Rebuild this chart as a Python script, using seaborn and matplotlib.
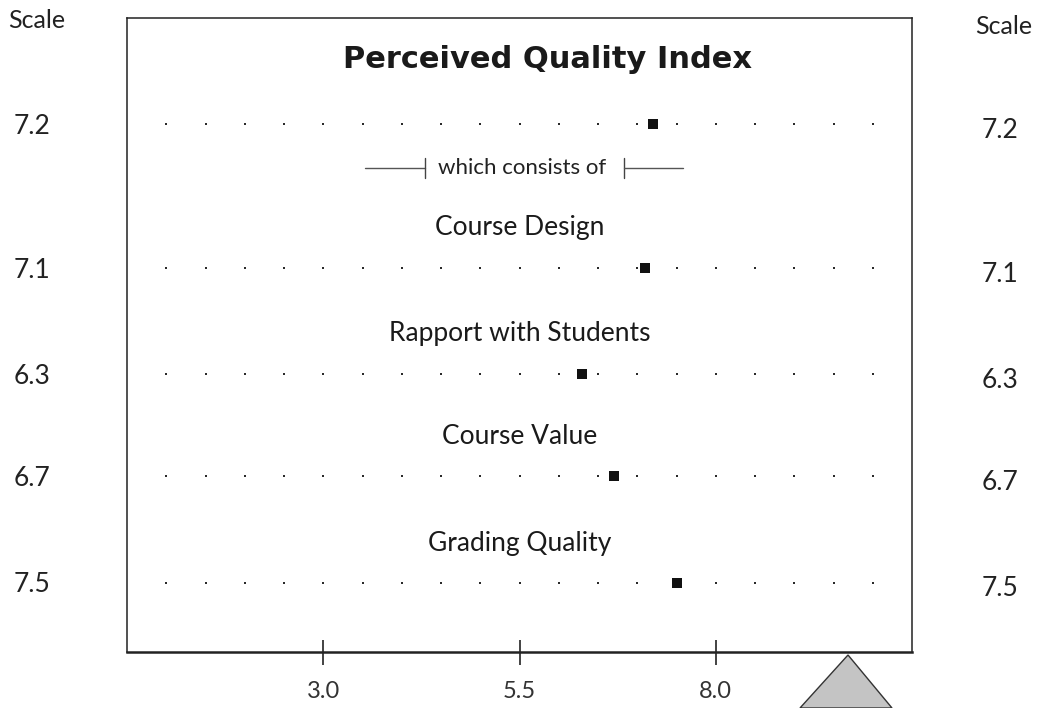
import numpy as np
import pandas as pd
import seaborn as sns
import matplotlib.pyplot as plt
from matplotlib import transforms
from matplotlib.patches import Polygon

# data
rows = ["Perceived Quality Index", "Course Design", "Rapport with Students",
        "Course Value", "Grading Quality"]
scores = [7.2, 7.1, 6.3, 6.7, 7.5]
score_labels = ["7.2", "7.1", "6.3", "6.7", "7.5"]
grid_pts = [1.0, 1.5, 2.0, 2.5, 3.0, 3.5, 4.0, 4.5, 5.0, 5.5,
            6.0, 6.5, 7.0, 7.5, 8.0, 8.5, 9.0, 9.5, 10.0]
tick_vals = [3.0, 5.5, 8.0]
tick_labels = ["3.0", "5.5", "8.0"]

# layout: row heights measured from the top of the frame (px)
row_y = [106, 250, 356, 458, 565]
title_y = [42, 210, 316, 419, 526]

sns.set_theme(style="white")
plt.rcParams['font.family'] = ['Lato', 'DejaVu Sans']

fig = plt.figure(figsize=(10.45, 7.08), dpi=100)
ax = fig.add_axes([127/1045, 56/708, 785/1045, 634/708])

dots = pd.DataFrame([(g, y) for y in row_y for g in grid_pts], columns=["x", "y"])
sns.scatterplot(data=dots, x="x", y="y", ax=ax, marker="s", s=4,
                color="#2a2a2a", linewidth=0)
marks = pd.DataFrame({"x": scores, "y": row_y})
sns.scatterplot(data=marks, x="x", y="y", ax=ax, marker="s", s=55,
                color="#111111", linewidth=0)

ax.set_xlim(0.5, 10.5)
ax.set_ylim(634, 0)
ax.set_xlabel("")
ax.set_ylabel("")
ax.set_yticks([])
ax.set_xticks(tick_vals)
ax.set_xticklabels(tick_labels, fontsize=17, color="#333333")
ax.tick_params(axis="x", direction="inout", length=18, width=1.2,
               color="#222222", pad=12, bottom=True)
for s in ax.spines.values():
    s.set_color("#222222")
    s.set_linewidth(1.1)
ax.spines["bottom"].set_linewidth(1.8)

# row titles
ax.text(5.86, title_y[0], rows[0], ha="center", va="center",
        fontsize=22, fontweight="bold", family=['DejaVu Sans'], color="#1a1a1a")
for name, ty in zip(rows[1:], title_y[1:]):
    ax.text(5.5, ty, name, ha="center", va="center", fontsize=19, color="#1a1a1a")

# "which consists of" bracket
ax.text(5.53, 150, "which consists of", ha="center", va="center", fontsize=16,
        color="#222222")
ax.plot([3.53, 4.3], [150, 150], color="#555555", lw=1)
ax.plot([4.3, 4.3], [140, 160], color="#444444", lw=1)
ax.plot([6.83, 6.83], [140, 160], color="#444444", lw=1)
ax.plot([6.83, 7.58], [150, 150], color="#555555", lw=1)

# scale columns on both sides
tr = transforms.blended_transform_factory(fig.transFigure, ax.transData)
fig.text(8/1045, 1 - 20/708, "Scale", ha="left", va="center", fontsize=18, color="#222222")
fig.text(1004/1045, 1 - 26/708, "Scale", ha="center", va="center", fontsize=18, color="#222222")
for lab, ry in zip(score_labels, row_y):
    ax.text(32/1045, ry + 2, lab, transform=tr, ha="center", va="center",
            fontsize=19, color="#222222")
    ax.text(1000/1045, ry + 6, lab, transform=tr, ha="center", va="center",
            fontsize=19, color="#222222")

# grey pointer triangle at the bottom
tri = Polygon([(800/1045, 0), (848/1045, 1 - 655/708), (892/1045, 0)],
              closed=True, transform=fig.transFigure, facecolor="#c4c4c4",
              edgecolor="#333333", lw=1, clip_on=False)
fig.patches.append(tri)

fig.savefig("out.png", dpi=100)
